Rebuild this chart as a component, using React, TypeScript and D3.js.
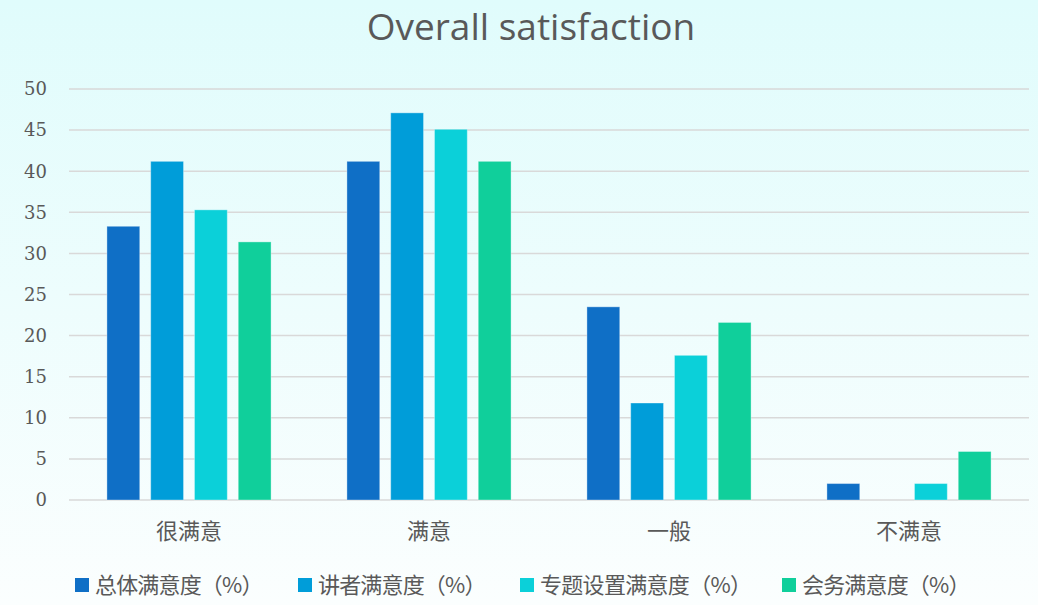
import React from "react";
import * as d3 from "d3";

const categories = ["很满意", "满意", "一般", "不满意"];
const seriesNames = ["总体满意度（%）", "讲者满意度（%）", "专题设置满意度（%）", "会务满意度（%）"];
const overall = [33.3, 41.2, 23.5, 2.0];
const speaker = [41.2, 47.1, 11.8, 0];
const topics = [35.3, 45.1, 17.6, 2.0];
const service = [31.4, 41.2, 21.6, 5.9];
const yTicks = [0, 5, 10, 15, 20, 25, 30, 35, 40, 45, 50];
const colors = ["#0f6fc6", "#009dd9", "#0bd0d9", "#10cf9b"];

const W = 1038;
const H = 605;
const margin = { top: 89, right: 9, bottom: 105, left: 69 };
const textColor = "#595959";
const cjk = "'Noto Sans CJK SC', 'Noto Sans', sans-serif";

const App = () => {
  const series = [overall, speaker, topics, service];

  const x = d3
    .scaleBand()
    .domain(categories)
    .range([margin.left, W - margin.right])
    .paddingInner(0.316)
    .paddingOuter(0.158);

  // sub band for the 4 series inside each category
  const x1 = d3
    .scaleBand()
    .domain(seriesNames)
    .range([0, x.bandwidth()])
    .paddingInner(0.25)
    .paddingOuter(0);

  const y = d3.scaleLinear().domain([0, 50]).range([H - margin.bottom, margin.top]);

  // legend x positions (start of swatch)
  const legendX = [75, 298, 520, 782];

  return (
    <svg
      width={W}
      height={H}
      style={{ position: "absolute", left: 0, top: 0, display: "block" }}
    >
      <defs>
        <linearGradient id="bg" x1="0" y1="0" x2="0" y2="1">
          <stop offset="0%" stopColor="#e0fcfc" />
          <stop offset="100%" stopColor="#fbfefe" />
        </linearGradient>
      </defs>
      <rect x={0} y={0} width={W} height={H} fill="url(#bg)" />

      <text
        x={531}
        y={40}
        textAnchor="middle"
        fontSize={37}
        fill={textColor}
        fontFamily="'Open Sans', 'Noto Sans', sans-serif"
      >
        Overall satisfaction
      </text>

      {/* grid lines + y labels */}
      {yTicks.map((t) => (
        <g key={t}>
          <line
            x1={margin.left}
            x2={W - margin.right}
            y1={y(t)}
            y2={y(t)}
            stroke="#d9d9d9"
            strokeWidth={1.5}
          />
          <text
            x={47}
            y={y(t)}
            dy="0.35em"
            textAnchor="end"
            fontSize={18}
            fill={textColor}
            fontFamily="'DejaVu Serif', serif"
          >
            {t}
          </text>
        </g>
      ))}

      {/* bars */}
      {categories.map((c, ci) => (
        <g key={c} transform={`translate(${x(c)},0)`}>
          {series.map((s, si) => (
            <rect
              key={si}
              x={x1(seriesNames[si])}
              y={y(s[ci])}
              width={x1.bandwidth()}
              height={y(0) - y(s[ci])}
              fill={colors[si]}
              stroke={s[ci] > 0 ? "#ffffff" : "none"}
              strokeOpacity={0.35}
              strokeWidth={1}
            />
          ))}
          <text
            x={x.bandwidth() / 2}
            y={539}
            textAnchor="middle"
            fontSize={22}
            fill={textColor}
            fontFamily={cjk}
          >
            {c}
          </text>
        </g>
      ))}

      {/* legend */}
      {seriesNames.map((n, i) => (
        <g key={n} transform={`translate(${legendX[i]},578)`}>
          <rect x={0} y={0} width={14} height={14} fill={colors[i]} />
          <text
            x={20}
            y={15}
            fontSize={22}
            fill={textColor}
            fontFamily={cjk}
            textLength={n.length * 21.8 - 6}
            lengthAdjust="spacing"
          >
            {n}
          </text>
        </g>
      ))}
    </svg>
  );
};

export default App;
